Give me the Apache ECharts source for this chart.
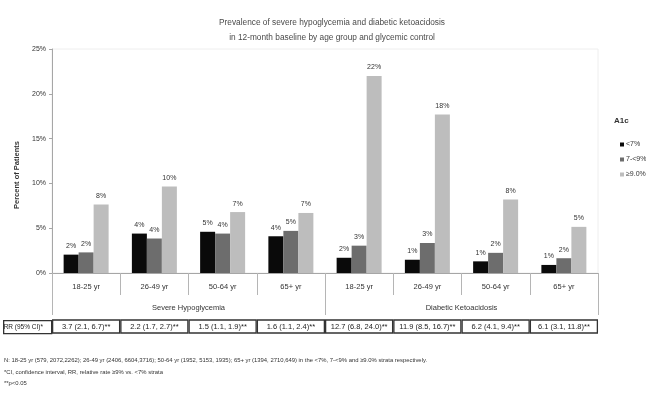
<!DOCTYPE html>
<html>
<head>
<meta charset="utf-8">
<script src="https://cdn.jsdelivr.net/npm/echarts@6/dist/echarts.min.js"></script>
<style>
  html, body { margin: 0; padding: 0; background: #fff; }
  #chart { width: 646px; height: 394px; }
</style>
</head>
<body>
<div id="chart"></div>
<script>
// Age groups, repeated once per outcome
const ageGroups = ['18-25 yr', '26-49 yr', '50-64 yr', '65+ yr'];
const outcomes = ['Severe Hypoglycemia', 'Diabetic Ketoacidosis'];
const seriesNames = ['<7%', '7-<9%', '\u22659.0%'];

// Percent of patients, severe hypoglycemia
const hypoLt7 = [2.05, 4.4, 4.6, 4.1];
const hypo7to9 = [2.3, 3.85, 4.4, 4.7];
const hypoGe9 = [7.65, 9.65, 6.8, 6.7];

// Percent of patients, diabetic ketoacidosis
const dkaLt7 = [1.7, 1.48, 1.3, 0.9];
const dka7to9 = [3.05, 3.35, 2.25, 1.65];
const dkaGe9 = [22.0, 17.7, 8.2, 5.15];

// Relative rate (95% CI), one per age group and outcome
const rrLabels = [
  '3.7 (2.1, 6.7)**', '2.2 (1.7, 2.7)**', '1.5 (1.1, 1.9)**', '1.6 (1.1, 2.4)**',
  '12.7 (6.8, 24.0)**', '11.9 (8.5, 16.7)**', '6.2 (4.1, 9.4)**', '6.1 (3.1, 11.8)**'
];

const yTicks = { min: 0, max: 25, interval: 5 };

const footnotes = [
  'N: 18-25 yr (579, 2072,2262); 26-49 yr (2406, 6604,3716); 50-64 yr (1952, 5153, 1935); 65+ yr (1394, 2710,649) in the <7%, 7-<9% and \u22659.0% strata respectively.',
  '*CI, confidence interval, RR, relative rate \u22659% vs. <7% strata',
  '**p<0.05'
];

const FONT = '"Liberation Sans Narrow", "Arial Narrow", "Liberation Sans", sans-serif';
const colors = ['#0a0a0a', '#6d6d6d', '#bdbdbd'];

const categories = ageGroups.concat(ageGroups);
const seriesData = [
  hypoLt7.concat(dkaLt7),
  hypo7to9.concat(dka7to9),
  hypoGe9.concat(dkaGe9)
];

const chart = echarts.init(document.getElementById('chart'), null, { renderer: 'canvas' });

const option = {
  animation: false,
  backgroundColor: '#ffffff',
  textStyle: { fontFamily: FONT },
  color: colors,
  title: {
    text: 'Prevalence of severe hypoglycemia and diabetic ketoacidosis\nin 12-month baseline by age group and glycemic control',
    left: 327,
    textAlign: 'center',
    top: 10,
    textStyle: { fontSize: 8.3, fontWeight: 'normal', color: '#4a4a4a', lineHeight: 15, fontFamily: FONT }
  },
  legend: {
    orient: 'vertical',
    left: 615,
    top: 136,
    itemWidth: 4,
    itemHeight: 4,
    itemGap: 8,
    icon: 'rect',
    data: seriesNames,
    textStyle: { fontSize: 7, color: '#333', padding: [0, 0, 0, -3], fontFamily: FONT }
  },
  grid: {
    left: 52,
    right: 48,
    top: 49,
    bottom: 121,
    show: true,
    borderColor: '#eeeeee',
    borderWidth: 1
  },
  xAxis: [
    {
      type: 'category',
      data: categories,
      position: 'bottom',
      axisLine: { show: true, lineStyle: { color: '#a6a6a6', width: 1 } },
      axisTick: { show: true, length: 22, interval: 0, lineStyle: { color: '#b5b5b5' } },
      axisLabel: { interval: 0, margin: 10, fontSize: 7.5, color: '#333', fontFamily: FONT },
      splitLine: { show: false }
    },
    {
      type: 'category',
      data: outcomes,
      position: 'bottom',
      axisLine: { show: false },
      axisTick: { show: true, length: 42, lineStyle: { color: '#b5b5b5' } },
      axisLabel: { interval: 0, margin: 31, fontSize: 7.5, color: '#333', fontFamily: FONT },
      splitLine: { show: false }
    },
    {
      type: 'category',
      data: rrLabels,
      position: 'bottom',
      axisLine: { show: false },
      axisTick: { show: false },
      axisLabel: {
        interval: 0,
        margin: 47,
        fontSize: 7.5,
        color: '#222',
        fontFamily: FONT,
        width: 67,
        height: 13,
        lineHeight: 13,
        align: 'center',
        borderColor: '#333',
        borderWidth: 1.3
      },
      splitLine: { show: false }
    }
  ],
  yAxis: {
    type: 'value',
    min: yTicks.min,
    max: yTicks.max,
    interval: yTicks.interval,
    name: 'Percent of Patients',
    nameLocation: 'middle',
    nameGap: 26,
    nameTextStyle: { fontSize: 7.5, fontWeight: 'bold', color: '#333', padding: [0, 28, 0, 0], fontFamily: FONT },
    axisLine: { show: true, lineStyle: { color: '#a6a6a6' } },
    axisTick: { show: true, length: 3, lineStyle: { color: '#a6a6a6' } },
    axisLabel: { formatter: '{value}%', fontSize: 7, color: '#333', margin: 6, fontFamily: FONT },
    splitLine: { show: false }
  },
  series: seriesNames.map((name, i) => ({
    name: name,
    type: 'bar',
    xAxisIndex: 0,
    data: seriesData[i],
    barWidth: 15,
    barGap: '0%',
    itemStyle: { color: colors[i] },
    label: {
      show: true,
      position: 'top',
      distance: 5,
      fontSize: 7,
      color: '#333',
      fontFamily: FONT,
      formatter: (p) => Math.round(p.value) + '%'
    }
  })),
  graphic: [
    {
      type: 'text',
      left: 614,
      top: 117,
      style: { text: 'A1c', fontSize: 8, fontWeight: 'bold', fill: '#333', fontFamily: FONT }
    },
    {
      type: 'text',
      left: 3,
      top: 320,
      style: {
        text: 'RR (95% CI)*',
        fontSize: 6.5,
        fill: '#222',
        fontFamily: FONT,
        width: 48,
        height: 13,
        lineHeight: 13,
        align: 'center',
        borderColor: '#333',
        borderWidth: 1.3
      }
    },
    {
      type: 'text',
      left: 4,
      top: 357,
      style: { text: footnotes[0], fontSize: 5.9, fill: '#333', fontFamily: FONT }
    },
    {
      type: 'text',
      left: 4,
      top: 369,
      style: { text: footnotes[1], fontSize: 5.9, fill: '#333', fontFamily: FONT }
    },
    {
      type: 'text',
      left: 4,
      top: 380,
      style: { text: footnotes[2], fontSize: 5.9, fill: '#333', fontFamily: FONT }
    }
  ]
};

chart.setOption(option);
</script>
</body>
</html>
